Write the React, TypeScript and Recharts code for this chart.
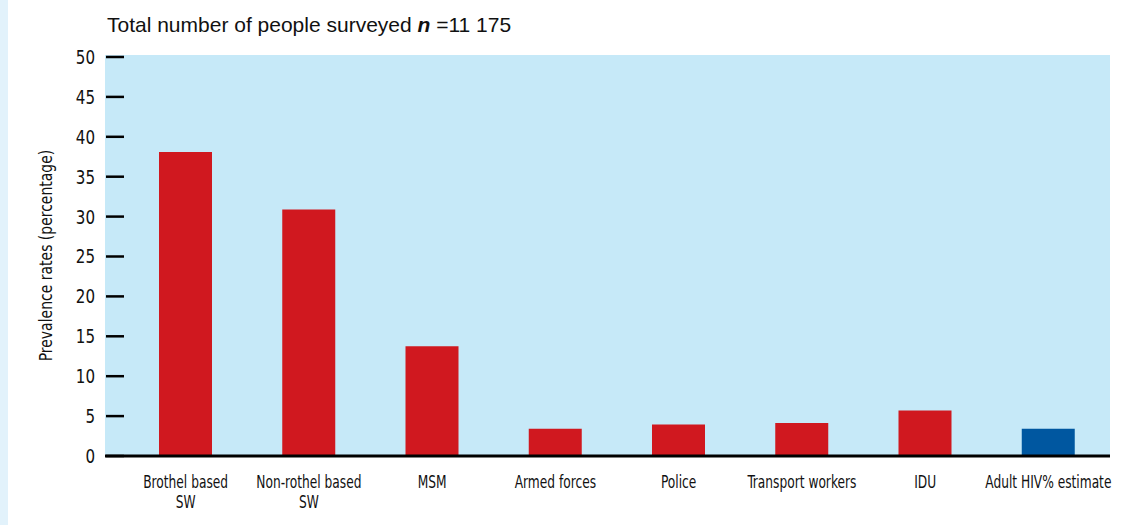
import React from 'react';
import { BarChart, Bar, XAxis, YAxis, CartesianGrid, Cell, Label } from 'recharts';

const categories = [
  'Brothel based\nSW',
  'Non-rothel based\nSW',
  'MSM',
  'Armed forces',
  'Police',
  'Transport workers',
  'IDU',
  'Adult HIV% estimate',
];
const prevalence = [38.1, 30.9, 13.75, 3.4, 3.95, 4.15, 5.7, 3.4];
const yTicks = [0, 5, 10, 15, 20, 25, 30, 35, 40, 45, 50];

const RED = '#d0181f';
const BLUE = '#0057a0';
const NARROW = '"Liberation Sans Narrow", "DejaVu Sans Condensed", "DejaVu Sans", sans-serif';

const data = categories.map((name, i) => ({ name, value: prevalence[i] }));

// condensed look: squeeze the glyphs horizontally
const YTick = ({ x, y, payload }: any) => (
  <g>
    <line x1={x + 1} x2={x + 19} y1={y} y2={y} stroke="#000" strokeWidth={2.5} />
    <text
      transform={`translate(${x - 10},${y + 7}) scale(0.84,1)`}
      textAnchor="end"
      fontSize={20}
      fontFamily={NARROW}
      fill="#111"
    >
      {payload.value}
    </text>
  </g>
);

const XTick = ({ x, y, payload }: any) => {
  const lines = String(payload.value).split('\n');
  return (
    <g transform={`translate(${x},${y}) scale(0.8,1)`}>
      <text x={0} y={0} textAnchor="middle" fontSize={17} fontFamily={NARROW} fill="#111">
        {lines.map((l, i) => (
          <tspan key={i} x={0} dy={i === 0 ? 32 : 20}>
            {l}
          </tspan>
        ))}
      </text>
    </g>
  );
};

const YLabel = ({ viewBox }: any) => {
  const cx = viewBox.x + 46;
  const cy = viewBox.y + viewBox.height / 2;
  return (
    <text
      transform={`translate(${cx},${cy}) rotate(-90) scale(0.84,1)`}
      textAnchor="middle"
      dominantBaseline="central"
      fontSize={18.5}
      fontFamily={NARROW}
      fill="#111"
    >
      Prevalence rates (percentage)
    </text>
  );
};

export default function App() {
  return (
    <div style={{ position: 'relative', width: 1138, height: 525, background: '#fff', overflow: 'hidden' }}>
      <style>{'body{margin:0}'}</style>
      <div style={{ position: 'absolute', left: 0, top: 0, width: 8, height: 525, background: '#e2f2fb' }} />
      <div
        style={{
          position: 'absolute',
          left: 107,
          top: 13,
          fontFamily: '"Liberation Sans", Arial, sans-serif',
          fontSize: 21,
          color: '#111',
          whiteSpace: 'nowrap',
        }}
      >
        Total number of people surveyed <b><i>n</i></b> =11 175
      </div>
      <div style={{ position: 'absolute', left: 0, top: 0 }}>
        <BarChart
          width={1138}
          height={525}
          data={data}
          margin={{ top: 55, right: 28, bottom: 39, left: 0 }}
          barCategoryGap={0}
        >
          <CartesianGrid fill="#c6e9f8" stroke="none" vertical={false} horizontal={false} />
          <XAxis
            dataKey="name"
            height={30}
            interval={0}
            padding={{ left: 19, right: 0 }}
            tickLine={false}
            tickSize={0}
            tickMargin={0}
            axisLine={{ stroke: '#000', strokeWidth: 3 }}
            tick={<XTick />}
          />
          <YAxis
            width={105}
            domain={[0, 50.25]}
            ticks={yTicks}
            interval={0}
            tickLine={false}
            axisLine={false}
            tickSize={0}
            tickMargin={0}
            tick={<YTick />}
          >
            <Label content={<YLabel />} />
          </YAxis>
          <Bar dataKey="value" barSize={53} isAnimationActive={false}>
            {data.map((d, i) => (
              <Cell key={d.name} fill={i === data.length - 1 ? BLUE : RED} />
            ))}
          </Bar>
        </BarChart>
      </div>
    </div>
  );
}
